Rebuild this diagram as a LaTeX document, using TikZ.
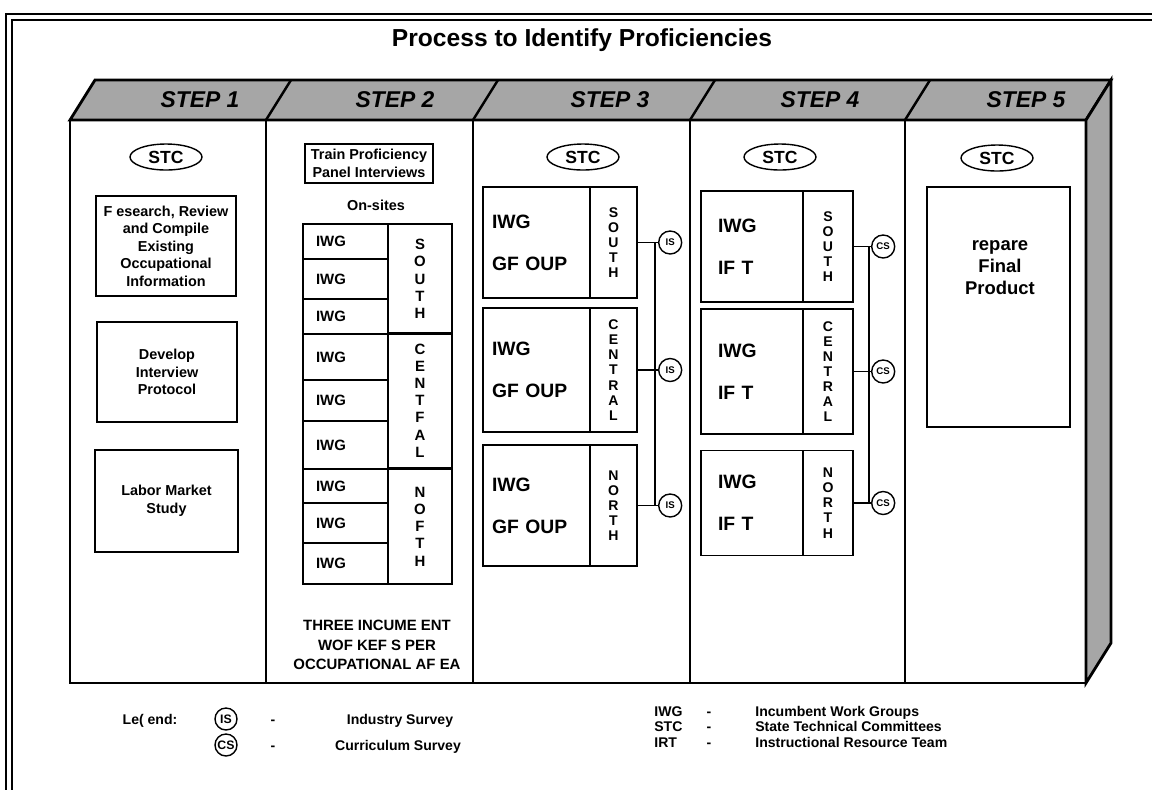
\documentclass[tikz,border=0pt]{standalone}
\usepackage{fontspec}
\setmainfont{Liberation Sans}
\usetikzlibrary{positioning,shapes.geometric}

\begin{document}
\begin{tikzpicture}[
  x=0.02cm, y=-0.02cm,
  face/.style={draw, line width=1.6pt, fill=black!35, line join=miter},
  steplbl/.style={font=\fontsize{13}{15}\selectfont\bfseries\itshape},
  taskbox/.style={draw, line width=0.8pt, align=center, inner sep=0pt, font=\fontsize{8.2}{10}\selectfont\bfseries},
  notetext/.style={align=center, inner sep=0pt, font=\fontsize{8.2}{10}\selectfont\bfseries},
  stc/.style={draw, ellipse, line width=0.8pt, minimum width=1.44cm, minimum height=0.52cm, inner sep=0pt, font=\fontsize{10}{12}\selectfont\bfseries},
  iwgcell/.style={draw, line width=0.7pt, outer sep=0pt, text width=1.18cm, inner xsep=0.26cm, inner ysep=0pt, align=left, minimum height=#1, font=\fontsize{8.5}{10}\selectfont\bfseries},
  areacell/.style={draw, line width=0.7pt, outer sep=0pt, text width=1.28cm, inner sep=0pt, align=center, minimum height=#1, font=\fontsize{8.5}{9.8}\selectfont\bfseries},
  groupcell/.style={draw, line width=0.7pt, outer sep=0pt, align=left, inner ysep=0pt, font=\fontsize{11}{13}\selectfont\bfseries},
  zone/.style={draw, line width=0.7pt, outer sep=0pt, text width=#1, inner sep=0pt, align=center, font=\fontsize{8}{8.6}\selectfont\bfseries},
  survey/.style={draw, circle, line width=0.8pt, minimum size=0.46cm, inner sep=0pt, font=\fontsize{5.5}{6}\selectfont\bfseries},
  link/.style={line width=0.8pt},
  legendtxt/.style={inner sep=0pt, anchor=base, font=\fontsize{8}{9}\selectfont\bfseries}
]
\useasboundingbox (0,0) rectangle (1152,789);

% page frame
\draw[line width=1.6pt] (6,800) -- (6,14) -- (1160,14);
\draw[line width=1.1pt] (12,800) -- (12,20) -- (1160,20);

\node[font=\fontsize{14}{16}\selectfont\bfseries] (title) at (582,40) {Process to Identify Proficiencies};

% the box: top band, side and front
\draw[face] (70,120) -- (95,80) -- (1111,80) -- (1086,120) -- cycle;
\draw[face] (1086,120) -- (1111,80) -- (1111,643) -- (1086,683) -- cycle;
\draw[line width=1.6pt] (70,120) rectangle (1086,683);
\draw[line width=1.4pt] (266,120) -- (291,80) (473,120) -- (498,80)
  (690,120) -- (715,80) (905,120) -- (930,80);
\draw[line width=1.4pt] (266,120) -- (266,683) (473,120) -- (473,683)
  (690,120) -- (690,683) (905,120) -- (905,683);

\node[steplbl] (step1) at (200,100) {STEP 1};
\node[steplbl] (step2) at (395,100) {STEP 2};
\node[steplbl] (step3) at (610,100) {STEP 3};
\node[steplbl] (step4) at (820,100) {STEP 4};
\node[steplbl] (step5) at (1026,100) {STEP 5};

% step 1
\node[stc] (stc1) at (166,157) {STC};
\node[taskbox, minimum width=2.8cm, minimum height=2cm] (research) at (166,246) {F esearch, Review\\and Compile\\Existing\\Occupational\\Information};
\node[taskbox, minimum width=2.8cm, minimum height=2cm] (protocol) at (167,372) {Develop\\Interview\\Protocol};
\node[taskbox, minimum width=2.86cm, minimum height=2.04cm] (labor) at (166.5,501) {Labor Market\\Study};

% step 2
\node[taskbox, minimum width=2.56cm, minimum height=0.78cm] (train) at (369,163.5) {Train Proficiency\\Panel Interviews};
\node[notetext] (onsites) at (376,205) {On-sites};
\node[iwgcell=0.70cm] (iwgS1) at (345.5,241.5) {IWG};
\node[iwgcell=0.80cm, below=0pt of iwgS1] (iwgS2) {IWG};
\node[iwgcell=0.70cm, below=0pt of iwgS2] (iwgS3) {IWG};
\node[iwgcell=0.92cm, below=0pt of iwgS3] (iwgC1) {IWG};
\node[iwgcell=0.82cm, below=0pt of iwgC1] (iwgC2) {IWG};
\node[iwgcell=0.96cm, below=0pt of iwgC2] (iwgC3) {IWG};
\node[iwgcell=0.68cm, below=0pt of iwgC3] (iwgN1) {IWG};
\node[iwgcell=0.80cm, below=0pt of iwgN1] (iwgN2) {IWG};
\node[iwgcell=0.82cm, below=0pt of iwgN2] (iwgN3) {IWG};
\node[areacell=2.2cm, right=0pt of iwgS2] (south2) {S\\O\\U\\T\\H};
\node[areacell=2.7cm, right=0pt of iwgC2] (central2) {C\\E\\N\\T\\F\\A\\L};
\node[areacell=2.3cm] (north2) at (420,526.5) {N\\O\\F\\T\\H};
\node[notetext, font=\fontsize{8.5}{11}\selectfont\bfseries] (three) at (377,645) {THREE INCUME ENT\\WOF KEF S PER\\OCCUPATIONAL AF EA};

% step 3
\node[stc] (stc3) at (583,157) {STC};
\node[groupcell, text width=1.78cm, inner xsep=0.18cm, minimum height=2.22cm] (g31) at (536.5,242.5) {IWG\\[11pt]GF OUP};
\node[groupcell, text width=1.78cm, inner xsep=0.18cm, minimum height=2.48cm] (g32) at (536.5,370) {IWG\\[11pt]GF OUP};
\node[groupcell, text width=1.78cm, inner xsep=0.18cm, minimum height=2.42cm] (g33) at (536.5,505.5) {IWG\\[11pt]GF OUP};
\node[zone=0.94cm, minimum height=2.22cm, right=0pt of g31] (z31) {S\\O\\U\\T\\H};
\node[zone=0.94cm, minimum height=2.48cm, right=0pt of g32] (z32) {C\\E\\N\\T\\R\\A\\L};
\node[zone=0.94cm, minimum height=2.42cm, right=0pt of g33] (z33) {N\\O\\R\\T\\H};
\node[survey, right=0.42cm of z31] (is31) {IS};
\node[survey, right=0.42cm of z32] (is32) {IS};
\node[survey, right=0.42cm of z33] (is33) {IS};
\coordinate (bus3) at (655,0);
\draw[link] (z31) -- (is31);
\draw[link] (z32) -- (is32);
\draw[link] (z33) -- (is33);
\draw[link] (bus3 |- z31.east) -- (bus3 |- z33.east);

% step 4
\node[stc] (stc4) at (780,157) {STC};
\node[groupcell, text width=1.36cm, inner xsep=0.34cm, minimum height=2.22cm] (g41) at (752,246.5) {IWG\\[11pt]IF T};
\node[groupcell, text width=1.36cm, inner xsep=0.34cm, minimum height=2.5cm] (g42) at (752,371.5) {IWG\\[11pt]IF T};
\node[groupcell, text width=1.36cm, inner xsep=0.34cm, minimum height=2.1cm] (g43) at (752,503) {IWG\\[11pt]IF T};
\node[zone=1cm, minimum height=2.22cm, right=0pt of g41] (z41) {S\\O\\U\\T\\H};
\node[zone=1cm, minimum height=2.5cm, right=0pt of g42] (z42) {C\\E\\N\\T\\R\\A\\L};
\node[zone=1cm, minimum height=2.1cm, right=0pt of g43] (z43) {N\\O\\R\\T\\H};
\node[survey, right=0.36cm of z41] (cs41) {CS};
\node[survey, right=0.36cm of z42] (cs42) {CS};
\node[survey, right=0.36cm of z43] (cs43) {CS};
\coordinate (bus4) at (869,0);
\draw[link] (z41) -- (cs41);
\draw[link] (z42) -- (cs42);
\draw[link] (z43) -- (cs43);
\draw[link] (bus4 |- z41.east) -- (bus4 |- z43.east);

% step 5
\node[stc] (stc5) at (997,158) {STC};
\node[taskbox, minimum width=2.86cm, minimum height=4.8cm] (final) at (998.5,307) {};
\node[notetext, font=\fontsize{10.5}{12.5}\selectfont\bfseries] (finaltxt) at (1000,268) {repare\\Final\\Product};

% legend
\node[legendtxt] (legend) at (150,724) {Le( end:};
\node[survey, minimum size=0.44cm, font=\fontsize{7}{8}\selectfont\bfseries] (lgis) at (226,719) {IS};
\node[survey, minimum size=0.44cm, font=\fontsize{7}{8}\selectfont\bfseries] (lgcs) at (226,745) {CS};
\node[legendtxt] (dashis) at (273,724) {-};
\node[legendtxt] (dashcs) at (273,750) {-};
\node[legendtxt] (lgistxt) at (400,724) {Industry Survey};
\node[legendtxt] (lgcstxt) at (398,750) {Curriculum Survey};
\node[legendtxt, anchor=base west] (abiwg) at (654,716) {IWG};
\node[legendtxt, anchor=base west] (abstc) at (654,731) {STC};
\node[legendtxt, anchor=base west] (abirt) at (654,747) {IRT};
\node[legendtxt] (dashiwg) at (709,716) {-};
\node[legendtxt] (dashstc) at (709,731) {-};
\node[legendtxt] (dashirt) at (709,747) {-};
\node[legendtxt, anchor=base west] (iwgtxt) at (755,716) {Incumbent Work Groups};
\node[legendtxt, anchor=base west] (stctxt) at (755,731) {State Technical Committees};
\node[legendtxt, anchor=base west] (irttxt) at (755,747) {Instructional Resource Team};
\end{tikzpicture}
\end{document}
